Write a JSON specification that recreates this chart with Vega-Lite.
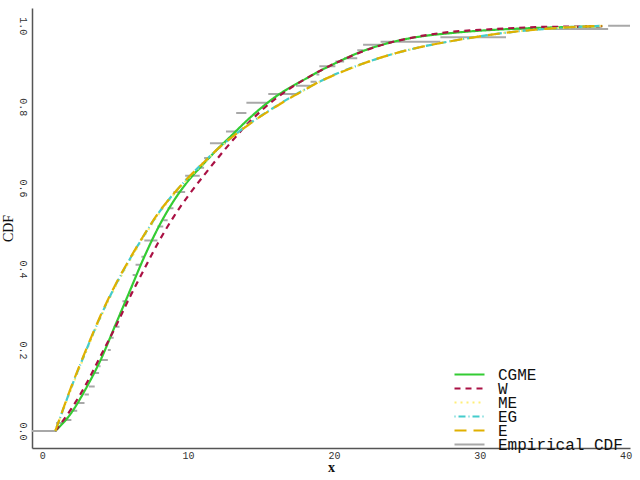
{
  "$schema": "https://vega.github.io/schema/vega-lite/v6.json",
  "width": 598,
  "height": 440,
  "autosize": {"type": "none"},
  "padding": {"left": 32, "top": 8, "right": 10, "bottom": 32},
  "background": "white",
  "datasets": {
    "fits": [
      {"x": 0.9, "CGME": 0, "W": 0, "ME": 0, "EG": 0, "E": 0},
      {"x": 2, "CGME": 0.045, "W": 0.055, "ME": 0.105, "EG": 0.108, "E": 0.11},
      {"x": 3, "CGME": 0.105, "W": 0.115, "ME": 0.195, "EG": 0.198, "E": 0.2},
      {"x": 4, "CGME": 0.175, "W": 0.185, "ME": 0.28, "EG": 0.283, "E": 0.285},
      {"x": 5, "CGME": 0.26, "W": 0.255, "ME": 0.355, "EG": 0.358, "E": 0.36},
      {"x": 6, "CGME": 0.345, "W": 0.33, "ME": 0.42, "EG": 0.424, "E": 0.425},
      {"x": 7, "CGME": 0.43, "W": 0.4, "ME": 0.481, "EG": 0.484, "E": 0.485},
      {"x": 8, "CGME": 0.505, "W": 0.468, "ME": 0.536, "EG": 0.539, "E": 0.54},
      {"x": 9, "CGME": 0.567, "W": 0.528, "ME": 0.583, "EG": 0.585, "E": 0.585},
      {"x": 10, "CGME": 0.617, "W": 0.58, "ME": 0.623, "EG": 0.625, "E": 0.625},
      {"x": 11, "CGME": 0.657, "W": 0.627, "ME": 0.659, "EG": 0.661, "E": 0.66},
      {"x": 12, "CGME": 0.695, "W": 0.672, "ME": 0.694, "EG": 0.695, "E": 0.695},
      {"x": 13, "CGME": 0.73, "W": 0.715, "ME": 0.724, "EG": 0.725, "E": 0.725},
      {"x": 14, "CGME": 0.765, "W": 0.755, "ME": 0.752, "EG": 0.753, "E": 0.752},
      {"x": 15, "CGME": 0.797, "W": 0.79, "ME": 0.777, "EG": 0.778, "E": 0.777},
      {"x": 16, "CGME": 0.825, "W": 0.82, "ME": 0.8, "EG": 0.801, "E": 0.8},
      {"x": 17, "CGME": 0.848, "W": 0.846, "ME": 0.822, "EG": 0.823, "E": 0.822},
      {"x": 18, "CGME": 0.868, "W": 0.868, "ME": 0.842, "EG": 0.843, "E": 0.842},
      {"x": 19, "CGME": 0.888, "W": 0.888, "ME": 0.861, "EG": 0.862, "E": 0.862},
      {"x": 20, "CGME": 0.906, "W": 0.906, "ME": 0.878, "EG": 0.879, "E": 0.878},
      {"x": 22, "CGME": 0.938, "W": 0.937, "ME": 0.906, "EG": 0.907, "E": 0.907},
      {"x": 24, "CGME": 0.96, "W": 0.96, "ME": 0.93, "EG": 0.93, "E": 0.93},
      {"x": 26, "CGME": 0.974, "W": 0.975, "ME": 0.948, "EG": 0.948, "E": 0.948},
      {"x": 28, "CGME": 0.982, "W": 0.985, "ME": 0.962, "EG": 0.962, "E": 0.962},
      {"x": 30, "CGME": 0.988, "W": 0.99, "ME": 0.974, "EG": 0.974, "E": 0.974},
      {"x": 32, "CGME": 0.992, "W": 0.994, "ME": 0.984, "EG": 0.984, "E": 0.984},
      {"x": 34, "CGME": 0.995, "W": 0.997, "ME": 0.991, "EG": 0.991, "E": 0.991},
      {"x": 36, "CGME": 0.997, "W": 0.998, "ME": 0.996, "EG": 0.996, "E": 0.996},
      {"x": 38.4, "CGME": 0.999, "W": 0.999, "ME": 1.0, "EG": 1.0, "E": 1.0}
    ],
    "ecdf": [
      {"x": -0.7, "x2": 0.95, "F": 0},
      {"x": 0.95, "x2": 1.5, "F": 0.02},
      {"x": 1.5, "x2": 2.0, "F": 0.027},
      {"x": 2.0, "x2": 2.4, "F": 0.05},
      {"x": 2.4, "x2": 2.9, "F": 0.069},
      {"x": 2.9, "x2": 3.2, "F": 0.09},
      {"x": 3.2, "x2": 3.6, "F": 0.11},
      {"x": 3.6, "x2": 3.9, "F": 0.143},
      {"x": 3.9, "x2": 4.0, "F": 0.16},
      {"x": 4.0, "x2": 4.5, "F": 0.175},
      {"x": 4.5, "x2": 4.7, "F": 0.2},
      {"x": 4.7, "x2": 4.9, "F": 0.23},
      {"x": 4.9, "x2": 5.3, "F": 0.257},
      {"x": 5.3, "x2": 5.5, "F": 0.29},
      {"x": 5.5, "x2": 5.9, "F": 0.32},
      {"x": 5.9, "x2": 6.1, "F": 0.34},
      {"x": 6.1, "x2": 6.2, "F": 0.356},
      {"x": 6.2, "x2": 6.4, "F": 0.385},
      {"x": 6.4, "x2": 6.8, "F": 0.41},
      {"x": 6.8, "x2": 7.0, "F": 0.43},
      {"x": 7.0, "x2": 7.9, "F": 0.47},
      {"x": 7.9, "x2": 8.3, "F": 0.505},
      {"x": 8.3, "x2": 8.6, "F": 0.52},
      {"x": 8.6, "x2": 9.0, "F": 0.55},
      {"x": 9.0, "x2": 9.8, "F": 0.59},
      {"x": 9.8, "x2": 10.8, "F": 0.63},
      {"x": 10.8, "x2": 11.1, "F": 0.65},
      {"x": 11.1, "x2": 11.5, "F": 0.674},
      {"x": 11.5, "x2": 12.6, "F": 0.71},
      {"x": 12.6, "x2": 13.3, "F": 0.739},
      {"x": 13.3, "x2": 14.0, "F": 0.785},
      {"x": 14.0, "x2": 15.5, "F": 0.81},
      {"x": 15.5, "x2": 17.4, "F": 0.832},
      {"x": 17.4, "x2": 18.4, "F": 0.852},
      {"x": 18.4, "x2": 18.8, "F": 0.862},
      {"x": 18.8, "x2": 19.0, "F": 0.88},
      {"x": 19.0, "x2": 20.1, "F": 0.9},
      {"x": 20.1, "x2": 20.7, "F": 0.912},
      {"x": 20.7, "x2": 21.6, "F": 0.92},
      {"x": 21.6, "x2": 22.0, "F": 0.94},
      {"x": 22.0, "x2": 23.2, "F": 0.953},
      {"x": 23.2, "x2": 27.3, "F": 0.961},
      {"x": 27.3, "x2": 31.8, "F": 0.972},
      {"x": 31.8, "x2": 38.8, "F": 0.992},
      {"x": 38.8, "x2": 40.3, "F": 1.0}
    ]
  },
  "layer": [
    {
      "mark": {"type": "rule", "color": "#eeeeee", "strokeWidth": 1},
      "encoding": {"y": {"datum": 1, "type": "quantitative"}}
    },
    {
      "data": {"name": "ecdf"},
      "mark": {"type": "rule", "strokeWidth": 2},
      "encoding": {
        "x": {"field": "x", "type": "quantitative"},
        "x2": {"field": "x2"},
        "y": {"field": "F", "type": "quantitative"},
        "color": {
          "datum": "Empirical CDF",
          "type": "nominal",
          "scale": {
            "domain": ["CGME", "W", "ME", "EG", "E", "Empirical CDF"],
            "range": ["#33cc33", "#aa1144", "#ffee77", "#44cccc", "#e0b000", "#a8a8a8"]
          }
        },
        "strokeDash": {
          "datum": "Empirical CDF",
          "type": "nominal",
          "scale": {
            "domain": ["CGME", "W", "ME", "EG", "E", "Empirical CDF"],
            "range": [[1, 0], [6, 5], [2, 4], [1, 3, 7, 3], [12, 7], [1, 0]]
          }
        }
      }
    },
    {
      "data": {"name": "fits"},
      "transform": [{"fold": ["CGME", "W", "ME", "EG", "E"], "as": ["model", "F"]}],
      "mark": {"type": "line", "strokeWidth": 2.2, "interpolate": "monotone"},
      "encoding": {
        "x": {"field": "x", "type": "quantitative"},
        "y": {"field": "F", "type": "quantitative"},
        "color": {
          "field": "model",
          "type": "nominal",
          "scale": {
            "domain": ["CGME", "W", "ME", "EG", "E", "Empirical CDF"],
            "range": ["#33cc33", "#aa1144", "#ffee77", "#44cccc", "#e0b000", "#a8a8a8"]
          }
        },
        "strokeDash": {
          "field": "model",
          "type": "nominal",
          "scale": {
            "domain": ["CGME", "W", "ME", "EG", "E", "Empirical CDF"],
            "range": [[1, 0], [6, 5], [2, 4], [1, 3, 7, 3], [12, 7], [1, 0]]
          }
        },
        "order": {"field": "x", "type": "quantitative"}
      }
    }
  ],
  "encoding": {
    "x": {
      "type": "quantitative",
      "title": "x",
      "scale": {"domain": [-0.7, 40.3], "nice": false, "zero": false},
      "axis": {"values": [0, 10, 20, 30, 40]}
    },
    "y": {
      "type": "quantitative",
      "title": "CDF",
      "scale": {"domain": [-0.042, 1.044], "nice": false, "zero": false},
      "axis": {"values": [0, 0.2, 0.4, 0.6, 0.8, 1.0], "format": ".1f"}
    }
  },
  "resolve": {"scale": {"color": "shared", "strokeDash": "shared"}},
  "config": {
    "view": {"stroke": null},
    "axis": {
      "grid": false,
      "ticks": false,
      "domainColor": "#555555",
      "domainWidth": 1.5,
      "labelFont": "Liberation Mono",
      "labelFontSize": 10,
      "labelColor": "#333333",
      "titleFont": "Liberation Serif",
      "titleFontSize": 14,
      "titleColor": "#111111"
    },
    "axisX": {"labelPadding": 2, "titlePadding": 0, "titleFontWeight": "bold"},
    "axisY": {
      "labelAngle": 90,
      "labelAlign": "center",
      "labelBaseline": "top",
      "labelPadding": 5,
      "titlePadding": 2,
      "titleFontWeight": "normal"
    },
    "legend": {
      "orient": "none",
      "legendX": 421,
      "legendY": 361,
      "title": null,
      "padding": 0,
      "symbolType": "stroke",
      "symbolSize": 900,
      "symbolStrokeWidth": 2.2,
      "labelFont": "Liberation Mono",
      "labelFontSize": 16,
      "labelColor": "#111111",
      "labelOffset": 12,
      "clipHeight": 11,
      "rowPadding": -8
    }
  }
}
